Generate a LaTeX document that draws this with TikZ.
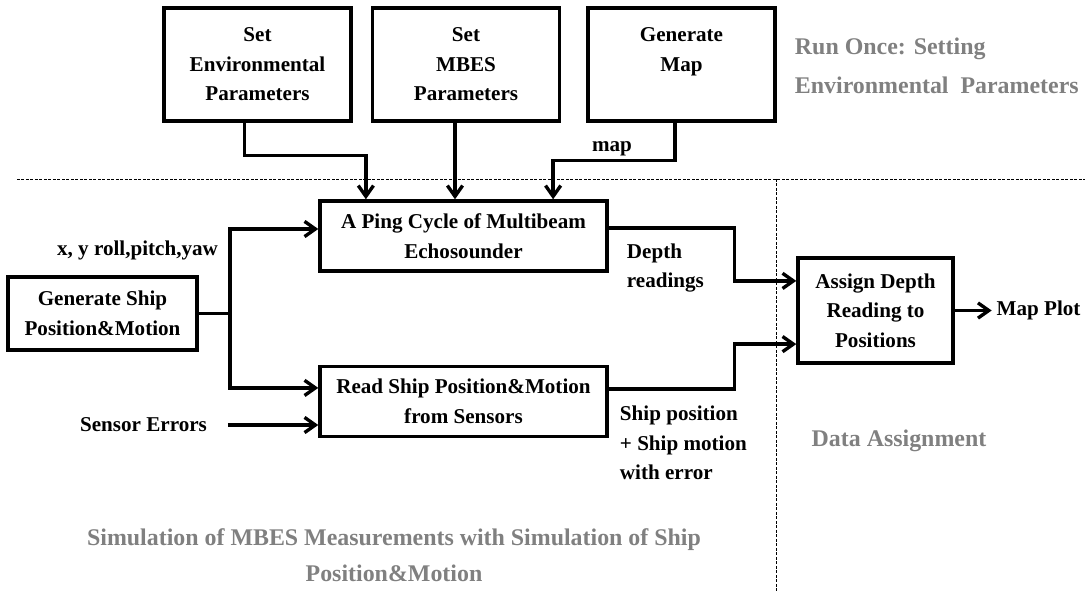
\documentclass[tikz,border=0pt]{standalone}
\usepackage{fontspec}
\setmainfont{Liberation Serif}
\usepackage{tikz}
\usepackage{xcolor}
\usetikzlibrary{positioning,arrows.meta,calc}
\definecolor{notegray}{RGB}{128,128,128}

\begin{document}
\begin{tikzpicture}[
    x=0.025cm, y=-0.025cm,
    every node/.style={align=center, font=\fontsize{15}{21}\selectfont\bfseries},
    setbox/.style={rectangle, draw=black, line width=2.4pt, minimum width=4.675cm, minimum height=2.825cm},
    procbox/.style={rectangle, draw=black, line width=2.4pt, minimum width=7.175cm, minimum height=1.75cm},
    genbox/.style={rectangle, draw=black, line width=2.4pt, minimum width=4.725cm, minimum height=1.825cm},
    assignbox/.style={rectangle, draw=black, line width=2.4pt, minimum width=3.875cm, minimum height=2.625cm},
    note/.style={text=notegray, font=\fontsize{17}{27.5}\selectfont\bfseries},
    sep/.style={line width=0.7pt, dash pattern=on 2pt off 1.2pt},
    arrow/.style={-{Straight Barb[length=2.7mm,width=3.8mm]}, line width=2.4pt},
    line/.style={line width=2.4pt}
]
\useasboundingbox (0,0) rectangle (1088,591);

% Run once layer
\node[setbox] (env) at (257.5,64.5) {Set\\Environmental\\Parameters};
\node[setbox] (mbes) at (466,64.5) {Set\\MBES\\Parameters};
\node[setbox] (map) at (681.5,64.5) {Generate\\Map\\\phantom{M}};
\node[note, anchor=west, align=left] (runonce) at (790,66) {Run Once: Setting\\Environmental\ \ Parameters};

% Simulation layer
\node[procbox] (ping) at (463.5,236) {A Ping Cycle of Multibeam\\Echosounder};
\node[procbox] (read) at (463.5,401.5) {Read Ship Position\&Motion\\from Sensors};
\node[genbox] (gen) at (102.5,313.5) {Generate Ship\\Position\&Motion};
\node (sensor) at (143.5,425) {Sensor Errors};
\coordinate (split) at (230,313.5);

% Data assignment
\node[assignbox] (assign) at (875.5,310.5) {Assign Depth\\Reading to\\Positions};
\node[right=0.925cm of assign] (plot) {Map Plot};

% Labels
\node (pose) at (137.5,250) {x, y roll,pitch,yaw};
\node (maplbl) at (612,149) {map};
\node[anchor=west, align=left] (depth) at (622,268) {Depth\\readings};
\node[anchor=west, align=left] (shippos) at (615,443) {Ship position\\+ Ship motion\\with error};
\node[note] (datalbl) at (899,441) {Data Assignment};
\node[note, font=\fontsize{17}{25.5}\selectfont\bfseries] (simlbl) at (394,555) {Simulation of MBES Measurements with Simulation of Ship\\Position\&Motion};

% Region separators
\draw[sep] (17,179) -- (1085,179);
\draw[sep] (776,179) -- (776,591);

% Parameters into the ping cycle
\draw[arrow] ([xshift=-0.325cm]env.south) |- ([xshift=-2.44cm,yshift=1.1cm]ping.north) -- ([xshift=-2.44cm]ping.north);
\draw[arrow] ([xshift=-0.275cm]mbes.south) -- ([xshift=-0.275cm]mbes.south |- ping.north);
\draw[arrow] ([xshift=-0.16cm]map.south) |- ([xshift=2.24cm,yshift=0.975cm]ping.north) -- ([xshift=2.24cm]ping.north);

% Ship motion branch
\draw[line] (gen.east) -- (split);
\draw[arrow] (split) |- ([yshift=0.175cm]ping.west);
\draw[arrow] (split) |- ([yshift=0.34cm]read.west);
\draw[arrow] ([xshift=0.4cm]sensor.east) -- (sensor.east -| read.west);

% Outputs to assignment
\draw[arrow] ([yshift=0.2cm]ping.east) -| ([xshift=-1.55cm,yshift=0.74cm]assign.west) -- ([yshift=0.74cm]assign.west);
\draw[arrow] ([yshift=0.31cm]read.east) -| ([xshift=-1.55cm,yshift=-0.84cm]assign.west) -- ([yshift=-0.84cm]assign.west);
\draw[arrow] (assign.east) -- (plot.west);

\end{tikzpicture}
\end{document}
